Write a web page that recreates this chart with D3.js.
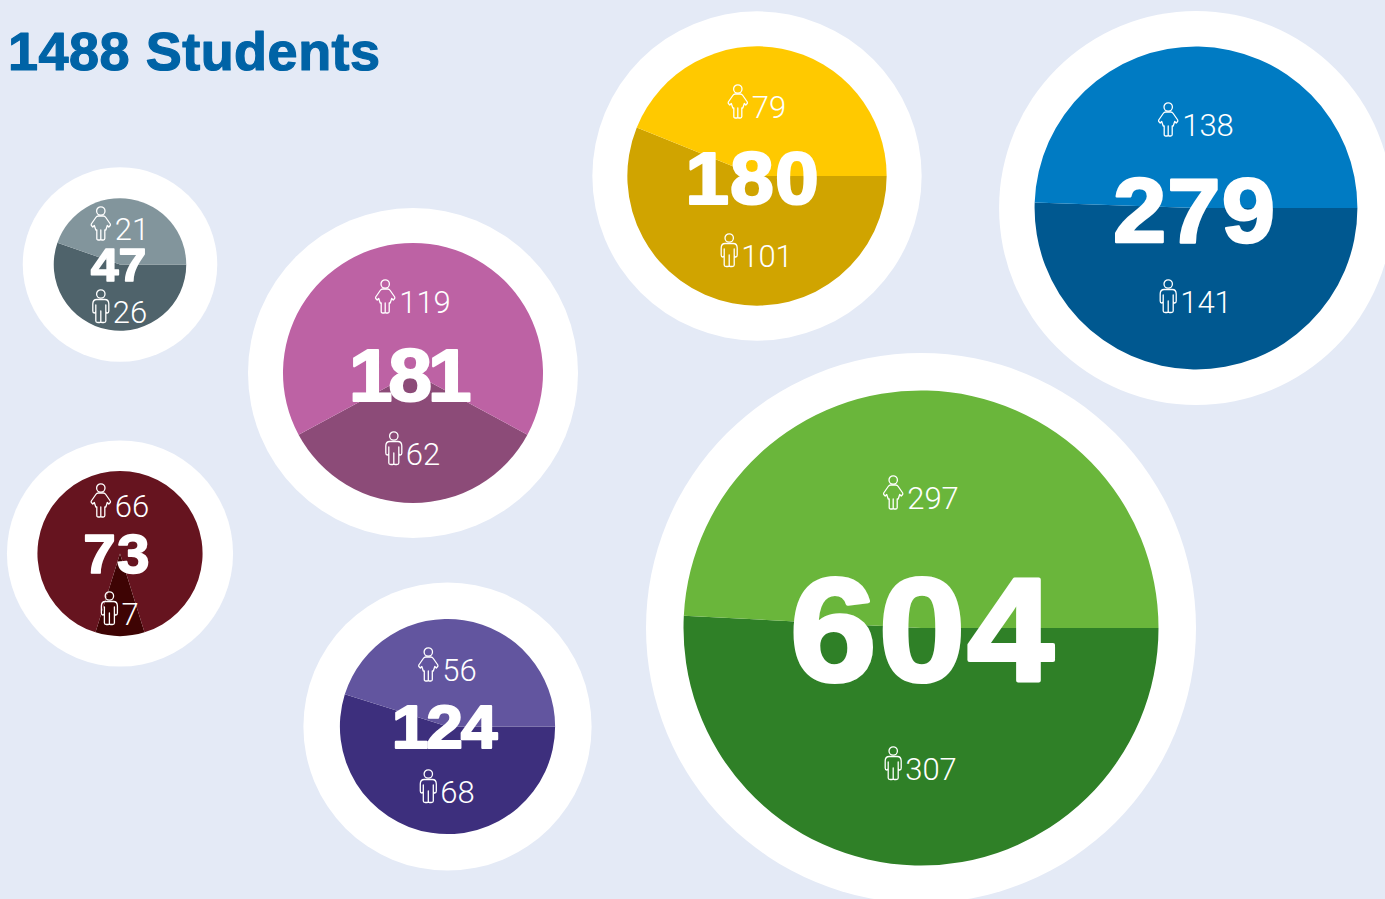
<!DOCTYPE html>
<html>
<head>
<meta charset="utf-8">
<script src="https://cdn.jsdelivr.net/npm/d3@7"></script>
<style>
body { margin: 0; background: #e4eaf6; overflow: hidden; }
svg { display: block; }
.total { font-family: "Liberation Sans", sans-serif; font-weight: 700; fill: #fff; stroke: #fff; stroke-linejoin: round; text-anchor: middle; }
.count { font-family: Roboto, sans-serif; font-weight: 300; font-size: 31px; fill: #fff; }
.icon { fill: none; stroke: #fff; stroke-width: 1.3; stroke-linejoin: round; }
</style>
</head>
<body>
<svg id="chart"></svg>
<script>
// values
var title = "1488 Students";
var groups = ["grey", "maroon", "pink", "yellow", "blue", "purple", "green"];
var women = [21, 66, 119, 79, 138, 56, 297];
var men = [26, 7, 62, 101, 141, 68, 307];

var lightColors = ["#82959c", "#66141f", "#bd62a4", "#ffc900", "#007bc3", "#62559f", "#6ab63b"];
// maroon and pink have the men's slice as the wedge at the bottom
var menColors = ["#4f636b", "#3e0404", "#8c4b78", "#d0a400", "#005890", "#3d2f7d", "#2f8027"];
var bottomCentred = [false, true, true, false, false, false, false];

// layout of the bubbles, by group
var centerX = [120, 120, 413, 757, 1196, 447.5, 921];
var centerY = [264.5, 553.5, 373, 176, 208, 726.5, 628];
var ringWidth = [31, 30.5, 35, 35, 35.5, 36.5, 37.5];
var totalSize = [47, 55, 74, 74, 90, 62, 146];
var totalTrack = [0, 1, -4, 1, 1, -2, 2];
var totalStroke = [1.5, 1.6, 2, 2.2, 2.5, 2, 4];
var totalShift = [-1.5, -3, -5, -4.5, -1.5, -4, 2];
var totalDrop = [16.5, 19.5, 28, 28, 34, 21.5, 53];
var womanTop = [-58.5, -70.5, -94, -92, -106, -79.5, -153];
var manTop = [24.5, 37.5, 58, 57, 71, 42.5, 118];

var width = 1385, height = 899;

var svg = d3.select("#chart")
    .attr("width", width)
    .attr("height", height);

svg.append("rect")
    .attr("width", width)
    .attr("height", height)
    .attr("fill", "#e4eaf6");

svg.append("text")
    .attr("x", 8)
    .attr("y", 70)
    .attr("fill", "#0063a6")
    .attr("stroke", "#0063a6")
    .attr("stroke-width", 1.2)
    .attr("stroke-linejoin", "round")
    .attr("letter-spacing", "0.5px")
    .attr("font-family", "'Liberation Sans', sans-serif")
    .attr("font-weight", 700)
    .attr("font-size", "54px")
    .text(title);

var totals = groups.map(function(d, i) { return women[i] + men[i]; });

var r = d3.scaleSqrt()
    .domain([0, d3.max(totals)])
    .range([0, 237.5]);

var arc = d3.arc().innerRadius(0);

var womanIcon = "M-2.5 10 L2.5 10 Q4 10 5 11.5 L9.5 18 Q10 19 9 20 L8 21 L6.5 19.5 L5 24 L4 24 L4 32.5 Q4 34 2.5 34 L1 34 Q0 34 0 33 L0 24 L0 33 Q0 34 -1 34 L-2.5 34 Q-4 34 -4 32.5 L-4 24 L-5 24 L-6.5 19.5 L-8 21 L-9 20 Q-10 19 -9.5 18 L-5 11.5 Q-4 10 -2.5 10 Z";
var manIcon = "M-4 10.5 L4 10.5 Q8 10.5 8 15 L8 22 Q8 24 6.5 24 Q5 24 5 22 L5 16 L5 32 Q5 33.5 3 33.5 L1 33.5 Q0 33.5 0 32 L0 22 L0 32 Q0 33.5 -1 33.5 L-3 33.5 Q-5 33.5 -5 32 L-5 16 L-5 22 Q-5 24 -6.5 24 Q-8 24 -8 22 L-8 15 Q-8 10.5 -4 10.5 Z";

function drawCount(g, top, value, iconPath, iconWidth) {
    var row = g.append("g");
    var label = row.append("text")
        .attr("class", "count")
        .attr("y", top + 34)
        .text(value);
    var w = label.node().getComputedTextLength();
    var gap = 4;
    var left = -(iconWidth + gap + w) / 2;
    label.attr("x", left + iconWidth + gap);
    var icon = row.append("g")
        .attr("class", "icon")
        .attr("transform", "translate(" + (left + iconWidth / 2) + "," + top + ")");
    icon.append("circle").attr("cx", 0).attr("cy", 5).attr("r", 4.2);
    icon.append("path").attr("d", iconPath);
}

var bubbles = svg.selectAll(".bubble")
    .data(groups)
  .enter().append("g")
    .attr("class", "bubble")
    .attr("transform", function(d, i) { return "translate(" + centerX[i] + "," + centerY[i] + ")"; });

bubbles.each(function(d, i) {
    var g = d3.select(this);
    var radius = r(totals[i]);

    g.append("circle")
        .attr("r", radius + ringWidth[i])
        .attr("fill", "#fff");

    // men's slice first, running clockwise from 3 o'clock
    var menAngle = men[i] / totals[i] * 2 * Math.PI;
    var start = bottomCentred[i] ? Math.PI - menAngle / 2 : Math.PI / 2;
    var pie = d3.pie()
        .sort(null)
        .startAngle(start)
        .endAngle(start + 2 * Math.PI);

    g.selectAll("path.slice")
        .data(pie([men[i], women[i]]))
      .enter().append("path")
        .attr("class", "slice")
        .attr("d", function(s) { return arc.outerRadius(radius)(s); })
        .attr("fill", function(s, j) { return j === 0 ? menColors[i] : lightColors[i]; });

    // the digits in the picture are a little wider than Liberation Sans
    g.append("text")
        .attr("class", "total")
        .attr("transform", "translate(" + totalShift[i] + "," + totalDrop[i] + ") scale(1.065,1)")
        .attr("font-size", totalSize[i] + "px")
        .attr("letter-spacing", totalTrack[i] + "px")
        .attr("stroke-width", totalStroke[i])
        .text(totals[i]);

    drawCount(g, womanTop[i], women[i], womanIcon, 20);
    drawCount(g, manTop[i], men[i], manIcon, 16);
});
</script>
</body>
</html>
